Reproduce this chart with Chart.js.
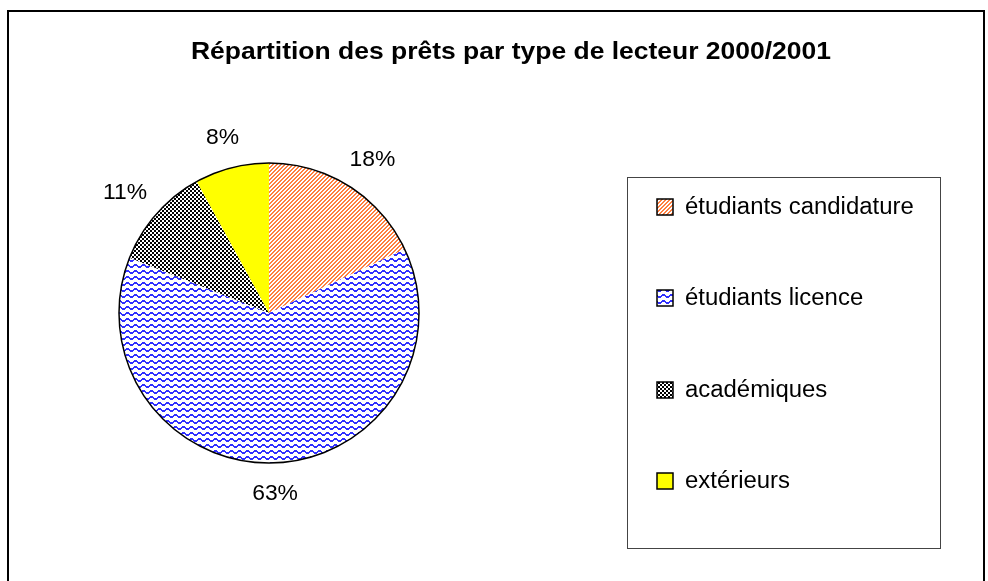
<!DOCTYPE html>
<html lang="fr">
<head>
    <meta charset="UTF-8">
    <script src="https://cdn.jsdelivr.net/npm/chart.js"></script>
    <title>Répartition des prêts</title>
    <style>
        body { margin: 0; background: #fff; }
        #wrap { width: 988px; height: 581px; position: relative; }
    </style>
</head>
<body>
    <div id="wrap">
        <canvas id="pieChart"></canvas>
    </div>

    <script>
    const chartTitle = 'Répartition des prêts par type de lecteur 2000/2001';
    const categories = ['étudiants candidature', 'étudiants licence', 'académiques', 'extérieurs'];
    const shares = [18, 63, 11, 8];

    const FONT = '"Liberation Sans", Arial, sans-serif';

    // small tiles for the hatch fills
    function makePattern(w, h, paint) {
        const c = document.createElement('canvas');
        c.width = w; c.height = h;
        const g = c.getContext('2d');
        g.fillStyle = '#fff';
        g.fillRect(0, 0, w, h);
        for (let y = 0; y < h; y++) {
            for (let x = 0; x < w; x++) {
                const col = paint(x, y);
                if (col) { g.fillStyle = col; g.fillRect(x, y, 1, 1); }
            }
        }
        return document.createElement('canvas').getContext('2d').createPattern(c, 'repeat');
    }

    const diagOrange = makePattern(4, 4, (x, y) => ((x + y) % 4 < 2 ? '#ff8040' : null));
    const waveBlue = makePattern(8, 6, (x, y) => {
        const off = [0, 1, 2, 2, 2, 1, 0, 0][x];
        const yy = (y - off + 6) % 6;
        return yy < 2 ? '#3030ff' : null;
    });
    const checkBlack = makePattern(4, 4, (x, y) => ((((x >> 1) + (y >> 1)) % 2 === 0) ? '#000' : null));
    const fills = [diagOrange, waveBlue, checkBlack, '#ffff00'];

    // text squeezed/stretched horizontally, the old chart's font runs a bit wide
    function wideText(ctx, txt, x, y, sx) {
        ctx.save();
        ctx.translate(x, y);
        ctx.scale(sx, 1);
        ctx.fillText(txt, 0, 0);
        ctx.restore();
    }

    const decorPlugin = {
        id: 'decor',
        beforeDraw(chart) {
            const ctx = chart.ctx;
            ctx.save();
            ctx.strokeStyle = '#000';
            ctx.lineWidth = 2;
            ctx.strokeRect(8, 11, 976, 580);
            ctx.fillStyle = '#000';
            ctx.font = 'bold 24px ' + FONT;
            ctx.textAlign = 'center';
            ctx.textBaseline = 'middle';
            const tw = ctx.measureText(chartTitle).width;
            wideText(ctx, chartTitle, 511, 52, 640 / tw);
            ctx.restore();
        },
        afterDatasetsDraw(chart) {
            const ctx = chart.ctx;
            const meta = chart.getDatasetMeta(0);
            const total = shares.reduce((a, b) => a + b, 0);
            ctx.save();
            // outer rim
            const a0 = meta.data[0];
            ctx.beginPath();
            ctx.arc(a0.x, a0.y, a0.outerRadius, 0, Math.PI * 2);
            ctx.strokeStyle = '#000';
            ctx.lineWidth = 1.5;
            ctx.stroke();
            // percentage labels, box pushed just outside the rim
            ctx.font = '22px ' + FONT;
            ctx.fillStyle = '#000';
            ctx.textAlign = 'center';
            ctx.textBaseline = 'middle';
            meta.data.forEach((arc, i) => {
                const mid = (arc.startAngle + arc.endAngle) / 2;
                const dx = Math.cos(mid), dy = Math.sin(mid);
                const txt = Math.round(shares[i] / total * 100) + '%';
                const w = ctx.measureText(txt).width * 1.04;
                const r = arc.outerRadius + 20;
                const x = arc.x + dx * r + dx * w / 2;
                const y = arc.y + dy * r + dy * 11;
                wideText(ctx, txt, x, y, 1.04);
            });
            // legend box
            ctx.lineWidth = 1;
            ctx.strokeStyle = '#444';
            ctx.strokeRect(627.5, 177.5, 313, 371);
            const rows = [207, 298, 390, 481];
            ctx.textAlign = 'left';
            ctx.font = '23px ' + FONT;
            categories.forEach((lab, i) => {
                ctx.fillStyle = fills[i];
                ctx.fillRect(657, rows[i] - 8, 16, 16);
                ctx.strokeStyle = '#000';
                ctx.lineWidth = 1.5;
                ctx.strokeRect(657, rows[i] - 8, 16, 16);
                ctx.fillStyle = '#000';
                wideText(ctx, lab, 685, rows[i] + 1, 1.04);
            });
            ctx.restore();
        }
    };

    new Chart(document.getElementById('pieChart'), {
        type: 'pie',
        data: {
            labels: categories,
            datasets: [{
                data: shares,
                backgroundColor: fills,
                borderWidth: 0
            }]
        },
        options: {
            responsive: true,
            maintainAspectRatio: false,
            animation: false,
            layout: {
                padding: { left: 119, right: 569, top: 163, bottom: 118 }
            },
            plugins: {
                legend: { display: false },
                title: { display: false },
                tooltip: { enabled: false }
            }
        },
        plugins: [decorPlugin]
    });
    </script>
</body>
</html>
